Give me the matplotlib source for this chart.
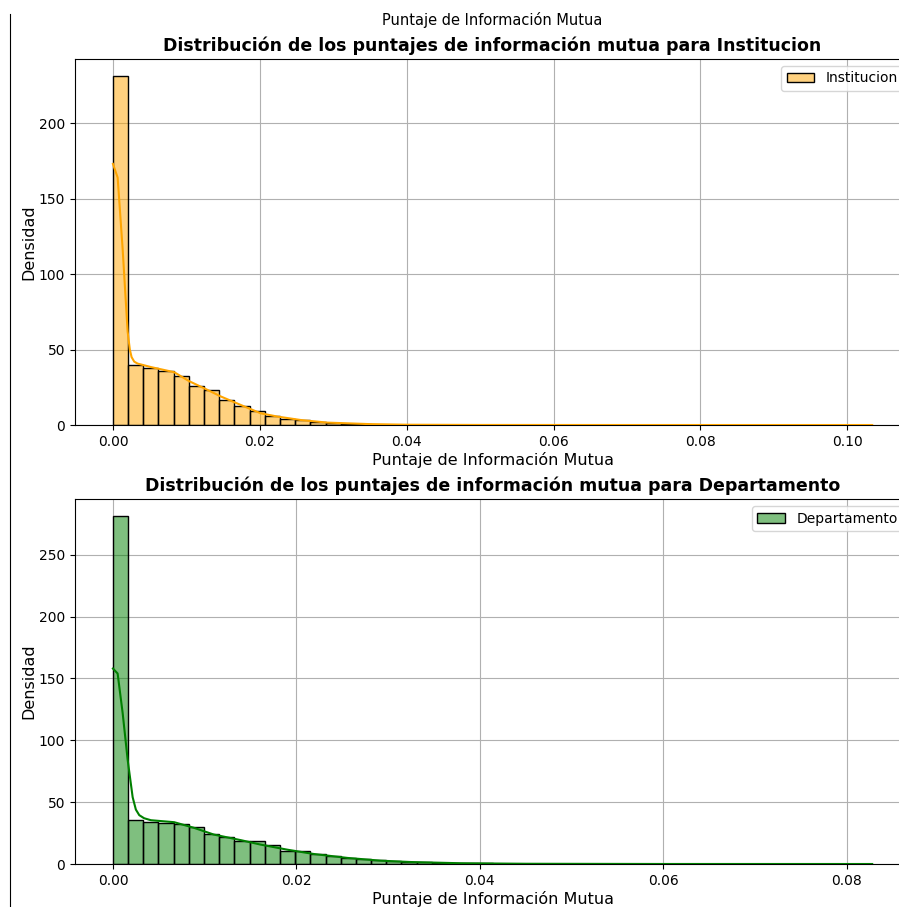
import numpy as np
import matplotlib
matplotlib.use("Agg")
import matplotlib.pyplot as plt
from matplotlib.colors import to_rgba
from matplotlib.lines import Line2D

# bin heights (density), 50 bins each
inst_max = 0.1034
inst_heights = [231, 40, 37.8, 35.6, 32.7, 26, 22.9, 16.7, 12.9, 9.3,
                6, 4, 3.3, 1.8, 1.1, 0.7, 0.45, 0.3, 0.2, 0.12,
                0.08, 0.05, 0.04, 0.03, 0.02, 0.02, 0.01, 0.01, 0, 0,
                0, 0, 0, 0, 0, 0, 0, 0, 0, 0,
                0, 0, 0, 0, 0, 0, 0, 0, 0, 0.02]
inst_kde_x = [0, 0.00064, 0.00132, 0.002, 0.0023, 0.00254, 0.0029, 0.00336, 0.00517,
              0.00834, 0.0104, 0.0124, 0.0147, 0.0174, 0.0201, 0.0224, 0.0256,
              0.0292, 0.035, 0.04, 0.05, 0.07, 0.1034]
inst_kde_y = [173, 164, 116.7, 62, 50, 45, 42, 40.7, 38.4, 35, 29, 24.4, 18.9,
              13.3, 7.8, 5.6, 3.3, 1.6, 0.6, 0.2, 0.05, 0.01, 0]

dep_max = 0.0828
dep_heights = [281, 35.4, 34, 33.2, 32.4, 29.7, 24, 21.9, 18.6, 18.6,
               15.1, 10.8, 10.8, 7.8, 6.2, 4.9, 4, 3, 2.2, 1.9,
               1.5, 1.2, 0.9, 0.7, 0.5, 0.4, 0.3, 0.2, 0.15, 0.1,
               0.08, 0.05, 0.04, 0.03, 0.02, 0.02, 0.01, 0.01, 0, 0,
               0, 0, 0, 0, 0, 0, 0, 0, 0, 0.02]
dep_kde_x = [0, 0.00051, 0.00106, 0.0016, 0.00215, 0.0025, 0.00287, 0.0034, 0.00414,
             0.00668, 0.00886, 0.011, 0.014, 0.0161, 0.019, 0.0219, 0.0256,
             0.0292, 0.0325, 0.038, 0.045, 0.06, 0.0828]
dep_kde_y = [158, 154, 122, 84.6, 54, 44, 39.5, 37, 35.4, 33.8, 29.2, 23.8, 19.2,
             15.7, 11.6, 8.1, 4.9, 2.7, 1.6, 0.6, 0.2, 0.02, 0]

fig = plt.figure(figsize=(8.99, 9.07), dpi=100)
ax1 = fig.add_axes([0.0834, 0.5314, 0.929, 0.4036])
ax2 = fig.add_axes([0.0834, 0.0474, 0.929, 0.4024])

fig.text(0.547, 0.978, "Puntaje de Información Mutua", ha="center", va="center", fontsize=10.5)
fig.add_artist(Line2D([0.0115, 0.0115], [0, 0.985], color="black", lw=0.8))


def draw(ax, heights, xmax, kx, ky, color, label, title):
    edges = np.linspace(0, xmax, len(heights) + 1)
    ax.bar(edges[:-1], heights, width=np.diff(edges), align="edge",
           facecolor=to_rgba(color, 0.5), edgecolor="black", linewidth=1,
           label=label, zorder=2)
    ax.plot(kx, ky, color=color, lw=1.5, zorder=3)
    ax.set_title(title, fontsize=12.5, fontweight="bold")
    ax.set_xlabel("Puntaje de Información Mutua", fontsize=11.5, labelpad=2)
    ax.set_ylabel("Densidad", fontsize=11.5, labelpad=2)
    ax.grid(True, zorder=0)
    ax.set_axisbelow(True)
    ax.legend(loc="upper right")


draw(ax1, inst_heights, inst_max, inst_kde_x, inst_kde_y, "orange", "Institucion",
     "Distribución de los puntajes de información mutua para Institucion")
draw(ax2, dep_heights, dep_max, dep_kde_x, dep_kde_y, "green", "Departamento",
     "Distribución de los puntajes de información mutua para Departamento")
ax1.set_yticks([0, 50, 100, 150, 200])
ax2.set_yticks([0, 50, 100, 150, 200, 250])

fig.savefig("out.png", dpi=100)
